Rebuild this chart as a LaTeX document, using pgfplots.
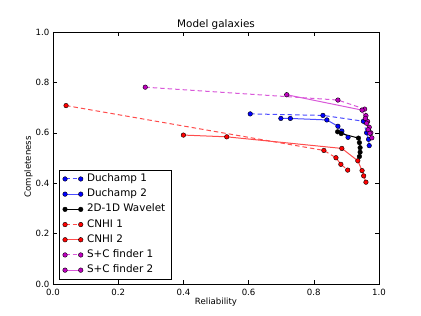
\documentclass[border=0pt]{standalone}
\usepackage{fontspec}
\setmainfont{DejaVu Sans}
\usepackage{pgfplots}
\pgfplotsset{compat=1.18}
\definecolor{mB}{rgb}{0,0,1}
\definecolor{lB}{rgb}{0.3,0.3,1}
\definecolor{mR}{rgb}{1,0,0}
\definecolor{lR}{rgb}{1,0.3,0.3}
\definecolor{mM}{rgb}{0.75,0,0.75}
\definecolor{lM}{rgb}{0.85,0.35,0.85}
\begin{document}
\begin{tikzpicture}
\useasboundingbox (-53bp,-32bp) rectangle (368bp,284bp);
\begin{axis}[
  scale only axis, width=326bp, height=252bp,
  xmin=0, xmax=1, ymin=0, ymax=1,
  xtick={0,0.2,0.4,0.6,0.8,1}, xticklabels={0.0,0.2,0.4,0.6,0.8,1.0},
  ytick={0,0.2,0.4,0.6,0.8,1}, yticklabels={0.0,0.2,0.4,0.6,0.8,1.0},
  tick align=inside, major tick length=4bp,
  tick style={black, line width=0.5bp},
  axis line style={line width=0.8bp},
  xticklabel style={font=\fontsize{8.6bp}{9bp}\selectfont, anchor=base, inner sep=0pt, yshift=-11bp},
  yticklabel style={font=\fontsize{8.6bp}{9bp}\selectfont, anchor=east, inner sep=0pt, xshift=-3.5bp},
  title={Model galaxies},
  title style={font=\fontsize{10.4bp}{12bp}\selectfont, at={(0.5,1)}, anchor=base, yshift=-1bp, inner sep=0pt},
  xlabel={Reliability},
  xlabel style={font=\fontsize{8.6bp}{9bp}\selectfont, at={(0.5,0)}, anchor=base, yshift=-20bp, inner sep=0pt},
  ylabel={Completeness},
  ylabel style={font=\fontsize{8.6bp}{9bp}\selectfont, at={(0,0.465)}, anchor=base, yshift=22bp, inner sep=0pt},
  legend cell align=left,
  legend style={at={(0.0184,0.0198)}, anchor=south west, draw=black, line width=0.5bp, fill=white,
    font=\fontsize{10.4bp}{12bp}\selectfont, inner xsep=3.5bp, inner ysep=1bp, row sep=0pt, column sep=2bp,
    nodes={inner xsep=2bp, inner ysep=2.4bp, text height=7.8bp, text depth=2.6bp}},
  legend image code/.code={\draw[#1] plot coordinates {(0bp,0bp) (15.7bp,0bp)};},
]
\addplot[lB, line width=1bp, dash pattern=on 4.5bp off 3bp, mark=*, mark size=2.3bp,
  mark options={solid, fill=mB, draw=black, line width=0.4bp}] coordinates {
  (0.605,0.675) (0.828,0.669) (0.952,0.646) (0.962,0.600) (0.968,0.574) (0.970,0.549)};
\addlegendentry{Duchamp 1}
\addplot[lB, line width=1bp, mark=*, mark size=2.3bp,
  mark options={solid, fill=mB, draw=black, line width=0.4bp}] coordinates {
  (0.699,0.657) (0.728,0.657) (0.840,0.651) (0.874,0.626) (0.886,0.607) (0.905,0.582)};
\addlegendentry{Duchamp 2}
\addplot[black, line width=1bp, mark=*, mark size=2.3bp,
  mark options={solid, fill=black, draw=black, line width=0.4bp}] coordinates {
  (0.873,0.604) (0.884,0.597) (0.937,0.579) (0.940,0.561) (0.942,0.541) (0.942,0.523) (0.940,0.506)};
\addlegendentry{2D-1D Wavelet}
\addplot[lR, line width=1bp, dash pattern=on 4.5bp off 3bp, mark=*, mark size=2.3bp,
  mark options={solid, fill=mR, draw=black, line width=0.4bp}] coordinates {
  (0.040,0.708) (0.831,0.530) (0.868,0.501) (0.883,0.475) (0.904,0.452)};
\addlegendentry{CNHI 1}
\addplot[lR, line width=1bp, mark=*, mark size=2.3bp,
  mark options={solid, fill=mR, draw=black, line width=0.4bp}] coordinates {
  (0.400,0.591) (0.533,0.584) (0.886,0.538) (0.935,0.489) (0.948,0.450) (0.953,0.429) (0.960,0.404)};
\addlegendentry{CNHI 2}
\addplot[lM, line width=1bp, dash pattern=on 4.5bp off 3bp, mark=*, mark size=2.3bp,
  mark options={solid, fill=mM, draw=black, line width=0.4bp}] coordinates {
  (0.283,0.781) (0.874,0.730) (0.956,0.694) (0.960,0.668) (0.965,0.645) (0.970,0.622) (0.975,0.600)};
\addlegendentry{S+C finder 1}
\addplot[lM, line width=1bp, mark=*, mark size=2.3bp,
  mark options={solid, fill=mM, draw=black, line width=0.4bp}] coordinates {
  (0.717,0.751) (0.948,0.690) (0.958,0.657) (0.962,0.638) (0.967,0.612) (0.972,0.598) (0.978,0.580)};
\addlegendentry{S+C finder 2}
\end{axis}
\end{tikzpicture}
\end{document}
